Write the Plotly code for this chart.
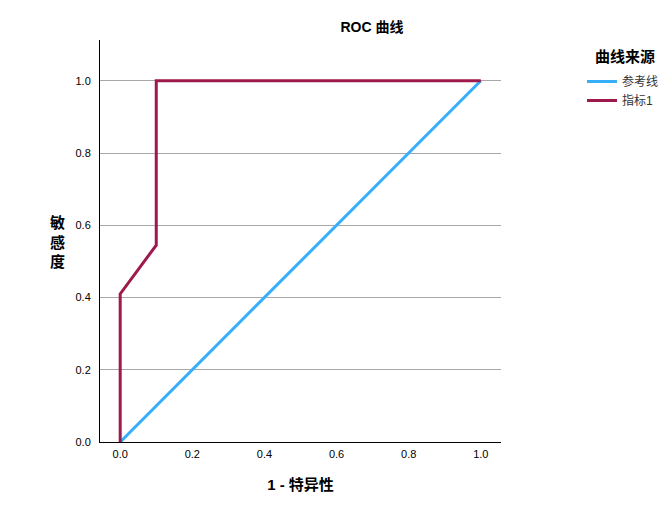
import plotly.graph_objects as go

ref_x = [0.0, 1.0]
ref_y = [0.0, 1.0]
roc_x = [0.0, 0.0, 0.1, 0.1, 1.0]
roc_y = [0.0, 0.41, 0.545, 1.0, 1.0]
tick_vals = [0.0, 0.2, 0.4, 0.6, 0.8, 1.0]
tick_text = ["0.0", "0.2", "0.4", "0.6", "0.8", "1.0"]

FONT = "Liberation Sans, Arial, Noto Sans CJK SC"
BLUE = "#36aefc"
RED = "#9e1a4c"

fig = go.Figure()
fig.add_trace(go.Scatter(x=ref_x, y=ref_y, mode="lines", name="参考线",
                         line=dict(color=BLUE, width=3)))
fig.add_trace(go.Scatter(x=roc_x, y=roc_y, mode="lines", name="指标1",
                         line=dict(color=RED, width=3)))

fig.update_layout(
    width=666, height=518,
    margin=dict(l=100, r=165, t=40, b=76, autoexpand=False),
    paper_bgcolor="white", plot_bgcolor="white",
    font=dict(family=FONT, size=11, color="#000"),
    title=dict(text="<b>ROC 曲线</b>", x=372/666, xanchor="center", y=1-27/518, yanchor="middle",
               font=dict(size=14, family=FONT)),
    showlegend=True,
    legend=dict(x=(582-100)/401, xanchor="left", y=(442-67)/402, yanchor="top",
                font=dict(size=12, color="#333"), itemwidth=30,
                tracegroupgap=0),
    xaxis=dict(range=[-0.056, 1.056], tickvals=tick_vals, ticktext=tick_text,
               showgrid=False, zeroline=False, showline=True, linecolor="black", linewidth=1,
               ticks="", ticklen=0, ticklabelstandoff=2,
               title=dict(text="<b>1 - 特异性</b>", font=dict(size=15), standoff=20)),
    yaxis=dict(range=[0, 1.113], tickvals=tick_vals, ticktext=tick_text,
               showgrid=True, gridcolor="#a8a8a8", gridwidth=1, zeroline=False,
               showline=True, linecolor="black", linewidth=1, ticks="", ticklen=0,
               ticklabelstandoff=6),
)
fig.add_annotation(text="<b>敏<br>感<br>度</b>", xref="paper", yref="paper",
                   x=(57-100)/401, y=(442-242)/402, xanchor="center", yanchor="middle",
                   showarrow=False, font=dict(size=15, family=FONT), align="center")
fig.add_annotation(text="<b>曲线来源</b>", xref="paper", yref="paper",
                   x=(625-100)/401, y=(442-57)/402, xanchor="center", yanchor="middle",
                   showarrow=False, font=dict(size=15, family=FONT))

fig.write_html("out.html")
